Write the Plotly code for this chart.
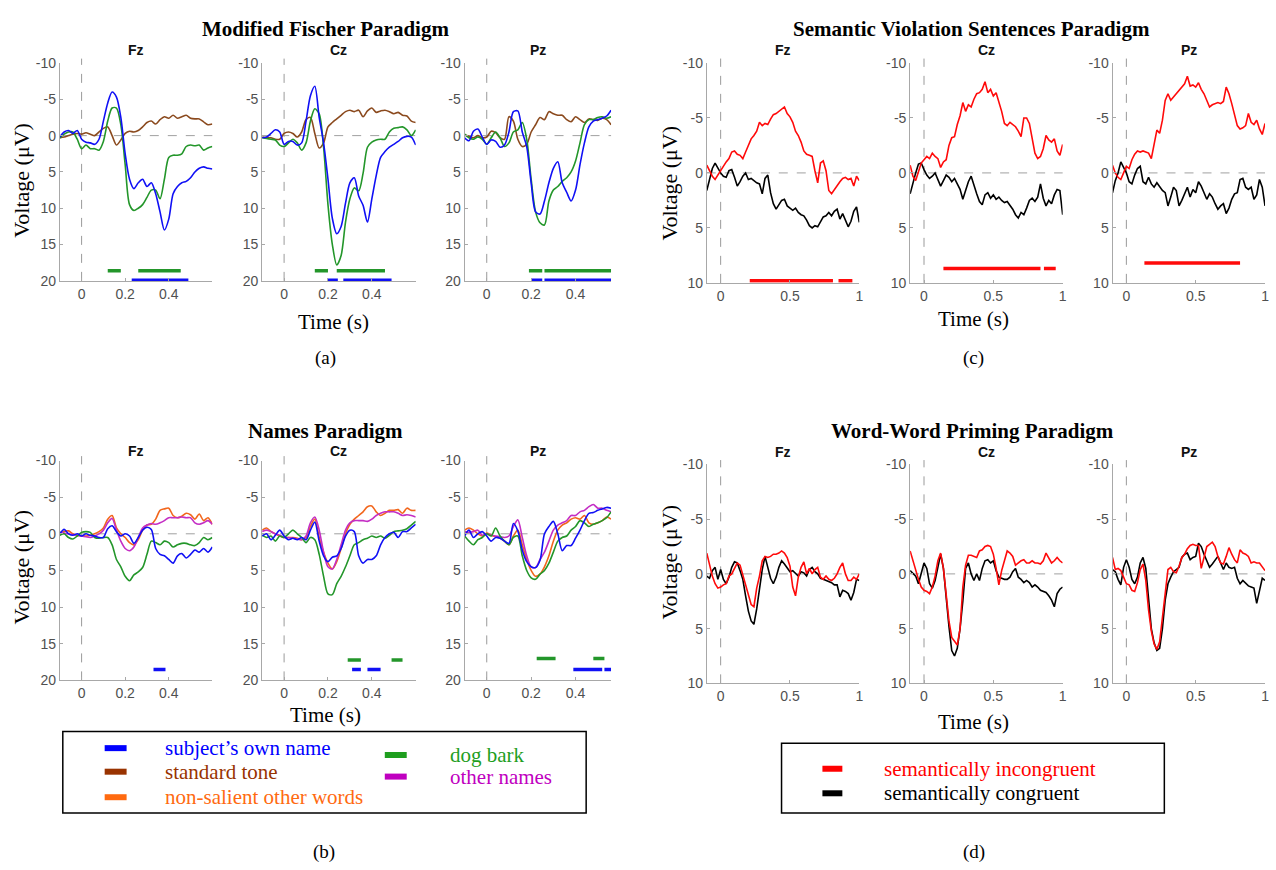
import plotly.graph_objects as go

W, H = 1276, 870

# ---------------- time axes (s) ----------------
T_A = [-0.10, -0.08, -0.06, -0.04, -0.02, 0.00, 0.02, 0.04, 0.06, 0.08, 0.10, 0.12,
       0.14, 0.16, 0.18, 0.20, 0.22, 0.24, 0.26, 0.28, 0.30, 0.32, 0.34, 0.36,
       0.38, 0.40, 0.42, 0.44, 0.46, 0.48, 0.50, 0.52, 0.54, 0.56, 0.58, 0.60]
T_P = [-0.10, -0.08, -0.06, -0.04, -0.02, 0.00, 0.02, 0.04, 0.06, 0.08, 0.10, 0.12,
       0.14, 0.16, 0.18, 0.20, 0.22, 0.24, 0.26, 0.28, 0.30, 0.32, 0.34, 0.36,
       0.38, 0.40, 0.42, 0.44, 0.46, 0.48, 0.50, 0.52, 0.54, 0.56]
T_C = [-0.10, -0.08, -0.06, -0.04, -0.02, 0.00, 0.02, 0.04, 0.06, 0.08,
       0.10, 0.12, 0.14, 0.16, 0.18, 0.20, 0.22, 0.24, 0.26, 0.28,
       0.30, 0.32, 0.34, 0.36, 0.38, 0.40, 0.42, 0.44, 0.46, 0.48,
       0.50, 0.52, 0.54, 0.56, 0.58, 0.60, 0.62, 0.64, 0.66, 0.68,
       0.70, 0.72, 0.74, 0.76, 0.78, 0.80, 0.82, 0.84, 0.86, 0.88,
       0.90, 0.92, 0.94, 0.96, 0.98, 1.00]

ELECTRODES = ["Fz", "Cz", "Pz"]

# ---------------- (a) Modified Fischer Paradigm (uV) ----------------
A_FZ_OWN = [0.2, -0.5, -0.7, -0.3, -0.7, 0.5, 0.9, 1.0, 1.2, 0.5, -2.0, -4.5,
            -6.0, -5.3, -2.5, 2.5, 6.0, 7.3, 6.5, 6.0, 7.0, 6.5, 8.0, 10.5,
            13.0, 11.5, 8.0, 7.0, 6.5, 6.3, 5.8, 5.0, 4.5, 4.3, 4.5, 4.6]
A_FZ_DOG = [0.3, -0.2, -0.5, -0.5, 0.5, 1.8, 1.3, 1.8, 1.8, 2.0, 0.8, -2.0,
            -3.8, -3.8, -1.5, 4.0, 9.5, 10.3, 10.0, 9.5, 8.5, 7.5, 7.5, 8.7,
            6.0, 3.0, 2.7, 2.7, 2.5, 1.5, 1.3, 1.4, 1.3, 2.0, 1.7, 1.5]
A_FZ_TONE = [0.3, 0.2, 0.0, -0.2, -0.3, -0.2, -0.4, -0.2, 0.0, -0.5, -1.0, -1.2,
             0.0, 1.3, 0.6, -0.3, -0.6, -0.5, -0.7, -1.2, -1.8, -2.0, -1.6, -2.2,
             -2.6, -2.4, -2.8, -2.4, -2.6, -2.8, -2.4, -2.3, -2.3, -1.9, -1.5, -1.6]

A_CZ_OWN = [0.3, 0.2, -0.3, -0.8, -0.5, 1.2, 0.8, 0.8, 1.3, 1.0, -2.0, -5.5,
            -6.8, -2.5, 1.0, 6.0, 11.4, 13.5, 12.5, 9.3, 6.5, 5.8, 8.3, 9.6,
            11.9, 8.7, 5.5, 3.0, 2.2, 1.6, 1.2, 0.8, 0.3, 0.1, 0.2, 1.3]
A_CZ_DOG = [0.3, 0.4, 0.5, 0.6, 1.3, 1.5, 1.0, 0.5, 1.0, 2.0, 1.0, -2.0,
            -3.7, -3.0, 1.6, 9.5, 15.0, 17.8, 16.5, 11.9, 8.7, 7.2, 7.6, 5.2,
            1.6, 0.9, 0.6, 0.5, 0.5, -0.5, -1.0, -1.1, -1.2, -0.8, 0.0, -0.8]
A_CZ_TONE = [0.2, 0.3, 0.3, 0.5, 0.5, -0.3, -0.5, -0.3, 0.2, -0.5, -2.2, -2.5,
             -0.3, 1.7, 1.0, -1.2, -1.8, -2.3, -2.8, -3.3, -3.5, -3.3, -3.5, -2.6,
             -3.4, -3.8, -3.2, -3.4, -3.5, -3.3, -3.0, -3.2, -2.8, -2.7, -2.0, -1.8]

A_PZ_OWN = [0.3, 0.7, -0.6, -0.9, 0.2, 1.2, 0.6, 0.8, 1.6, 1.3, -0.5, -3.3,
            -3.4, -0.5, 1.5, 6.5, 10.5, 10.8, 9.0, 6.5, 4.5, 3.6, 6.5, 7.8,
            9.0, 7.5, 4.0, 1.0, -1.2, -2.0, -2.2, -2.4, -2.7, -3.5]
A_PZ_DOG = [-0.2, 0.3, 0.5, 0.2, 0.5, 1.2, 0.3, -0.5, 0.3, 1.5, 1.0, -0.5,
            -0.8, -1.8, 0.5, 6.0, 10.5, 12.0, 12.3, 9.0, 7.5, 7.0, 6.3, 5.8,
            5.0, 3.5, 1.0, -1.5, -2.2, -2.2, -2.5, -2.6, -2.4, -2.6]
A_PZ_TONE = [-0.1, 0.1, 0.3, 0.0, 0.3, 0.2, -0.6, -0.4, 0.3, 0.5, -2.6, -2.0,
             0.5, 1.5, 1.2, -0.5, -1.5, -2.5, -2.2, -3.3, -3.0, -2.8, -2.8, -2.2,
             -1.9, -2.6, -2.2, -1.8, -2.3, -2.2, -2.1, -2.4, -2.2, -1.5]

# ---------------- (b) Names Paradigm (uV) ----------------
B_FZ_OWN = [0.0, -0.6, 0.0, 0.2, 0.0, 0.3, 0.0, 0.2, 0.3, 0.5, 0.5, -0.7,
            -1.1, -0.3, 0.3, 0.0, 0.3, 1.3, 0.5, -0.5, -0.9, -0.6, 2.0, 2.8,
            3.0, 3.5, 4.0, 3.0, 2.7, 3.3, 2.8, 2.2, 2.5, 2.0, 2.5, 1.8]
B_FZ_WORDS = [0.0, -0.3, -0.4, 0.0, 0.2, 0.3, 0.3, 0.2, 0.0, -0.3, -0.8, -2.0,
              -2.5, -0.8, 0.0, 0.5, 1.2, 1.5, 0.8, -0.5, -1.2, -1.3, -2.0, -3.2,
              -3.4, -3.5, -2.5, -2.2, -2.4, -2.8, -2.6, -2.0, -2.7, -1.8, -2.2, -1.3]
B_FZ_NAMES = [-0.2, -0.1, 0.0, 0.1, 0.2, 0.3, 0.4, 0.5, 0.3, 0.0, -0.5, -1.5,
              -2.1, -0.5, 1.0, 2.0, 2.3, 1.8, 0.5, -0.8, -1.2, -1.4, -1.3, -1.5,
              -1.8, -2.2, -2.2, -2.2, -2.3, -2.2, -2.2, -1.5, -1.3, -1.5, -1.8, -1.3]
B_FZ_DOG = [0.2, 0.0, 0.5, 0.7, 0.3, -0.2, -0.3, -0.2, 0.5, 0.6, 0.5, 0.5,
            1.5, 3.5, 4.5, 5.8, 6.4, 5.6, 5.2, 4.6, 2.8, 1.0, 1.2, 1.5,
            1.0, 1.2, 1.8, 1.5, 1.3, 1.3, 1.5, 1.6, 1.2, 0.5, 0.8, 0.5]

B_CZ_OWN = [0.3, 0.0, 0.8, 0.2, -0.5, 0.3, 0.8, 0.6, 0.8, 0.5, 0.8, -0.5,
            -1.6, 1.0, 3.0, 3.8, 3.2, 3.0, 2.0, 0.3, -0.5, -0.3, 3.0, 4.0,
            3.5, 3.5, 3.0, 1.5, 0.5, 0.0, -0.2, 0.5, -0.3, -0.3, -0.8, -1.3]
B_CZ_WORDS = [-0.5, -0.8, -0.3, 0.0, 0.3, 0.5, 0.5, 0.5, 0.6, 0.8, 0.5, -1.0,
              -2.0, 0.5, 2.5, 4.0, 4.8, 3.8, 2.0, 0.0, -1.3, -2.0, -2.5, -3.0,
              -3.7, -3.8, -3.0, -2.5, -2.8, -3.2, -3.2, -3.3, -2.8, -3.5, -3.2, -3.2]
B_CZ_NAMES = [-0.3, -0.5, -0.3, 0.0, 0.2, 0.5, 0.5, 0.6, 0.7, 0.8, 0.3, -1.5,
              -2.3, -0.5, 2.5, 4.5, 4.8, 3.5, 1.5, -0.5, -1.5, -1.8, -1.8, -1.8,
              -1.7, -2.0, -2.5, -2.8, -3.0, -3.0, -3.0, -2.8, -2.5, -2.6, -2.5, -2.3]
B_CZ_DOG = [0.2, 0.5, 0.3, 1.0, 0.3, 0.5, 0.0, -0.5, 0.0, 0.5, 1.2, 0.5,
            0.8, 2.8, 5.8, 8.2, 8.3, 6.8, 5.8, 4.5, 3.0, 1.5, 1.2, 0.8,
            0.6, 0.3, 0.5, 0.3, 0.6, 0.2, -0.3, -0.4, -0.5, -0.7, -1.2, -1.7]

B_PZ_OWN = [0.3, -0.5, 0.5, 0.0, -0.3, 0.3, 1.0, 0.5, 0.6, 1.0, 1.3, -1.4,
            -0.4, 2.2, 3.8, 4.5, 4.6, 3.6, 0.0, -1.0, -1.7, 0.0, 2.3, 1.6,
            1.6, 0.6, -0.5, -1.8, -2.8, -2.9, -3.2, -3.4, -3.6, -3.5]
B_PZ_WORDS = [-0.5, -0.8, -0.5, 0.0, 0.3, -0.1, 0.2, 0.4, 0.6, 1.0, 1.5, 0.3,
              -0.5, 1.5, 3.5, 5.0, 5.8, 5.5, 4.5, 3.0, 1.0, -0.5, -1.2, -1.5,
              -2.0, -2.2, -2.0, -2.5, -1.5, -1.3, -1.5, -1.8, -2.3, -2.0]
B_PZ_NAMES = [-0.3, -0.2, -0.3, -0.5, 0.2, 0.0, 0.2, 0.3, 0.4, 0.5, 0.3, -1.0,
              -1.9, 0.5, 3.0, 4.5, 4.6, 3.5, 2.5, 1.0, -0.5, -1.2, -1.5, -1.8,
              -2.5, -2.5, -3.0, -3.2, -3.7, -4.0, -3.5, -3.5, -3.2, -3.0]
B_PZ_DOG = [0.3, 1.0, 1.5, 0.8, 0.5, 0.0, 0.3, -0.8, 0.3, 1.0, 1.5, 0.5,
            0.3, 3.0, 5.0, 6.0, 6.2, 5.5, 5.0, 4.0, 2.5, 1.0, 0.5, 0.3,
            -0.5, -1.0, -1.8, -1.5, -1.0, -1.3, -1.5, -1.8, -2.2, -3.0]

# ---------------- (c) Semantic Violation Sentences Paradigm (uV) ----------------
C_FZ_INC = [-0.7, -0.2, 0.3, 0.6, 0.2, -0.3, -0.6, -1.0, -1.3, -1.9,
            -2.0, -1.7, -1.6, -1.3, -1.9, -2.6, -3.1, -3.4, -3.8, -4.6,
            -4.3, -4.5, -4.4, -4.9, -5.3, -5.4, -5.6, -5.8, -6.0, -5.4,
            -5.1, -4.6, -3.8, -3.4, -2.8, -2.0, -1.7, -1.6, -1.5, -0.2,
            0.9, -0.9, -1.1, -0.2, 1.6, 1.9, 1.5, 1.2, 0.8, 0.5,
            0.4, 0.6, 0.5, 1.2, 0.3, 0.7]
C_FZ_CON = [1.6, 0.6, -0.4, -0.9, -0.4, 0.0, 0.3, 0.4, -0.2, -0.3,
            0.4, 1.2, 0.8, 0.3, 0.0, 0.6, 0.5, 0.7, 0.9, 1.0,
            1.9, 0.5, 0.2, 1.8, 2.8, 3.3, 2.9, 2.5, 2.4, 3.0,
            3.2, 3.4, 3.2, 3.6, 3.8, 3.9, 4.3, 4.8, 5.0, 4.8,
            4.9, 4.5, 4.0, 3.9, 3.6, 3.9, 3.5, 3.3, 4.2, 3.7,
            4.3, 4.9, 4.4, 3.5, 3.1, 4.5]
C_CZ_INC = [-0.7, 0.3, 0.7, 0.0, -0.9, -1.2, -1.5, -1.3, -1.8, -1.5,
            -1.3, -0.5, -1.0, -1.2, -2.5, -3.2, -3.3, -4.4, -5.2, -6.4,
            -5.6, -6.2, -6.0, -6.7, -7.2, -7.3, -7.6, -8.3, -7.3, -7.6,
            -7.0, -7.3, -6.5, -5.6, -4.5, -4.3, -4.6, -4.4, -4.2, -3.8,
            -3.3, -5.0, -5.0, -4.5, -3.0, -1.8, -1.3, -1.5, -2.2, -3.4,
            -3.0, -2.8, -3.1, -2.0, -1.6, -2.6]
C_CZ_CON = [1.9, 0.9, 0.0, -0.8, -0.9, -0.3, 0.2, 0.5, 0.3, 0.0,
            0.6, 1.2, 0.7, 0.2, 0.4, 0.8, 0.5, 1.0, 1.5, 2.4,
            1.6, 0.8, 0.3, 1.2, 1.9, 2.6, 2.9, 2.0, 1.8, 2.3,
            2.0, 2.4, 2.2, 2.5, 2.7, 2.6, 2.9, 3.3, 3.8, 4.1,
            3.6, 3.8, 3.2, 2.5, 2.3, 2.6, 2.2, 1.0, 2.3, 3.0,
            2.5, 2.8, 2.0, 1.5, 1.6, 3.8]
C_PZ_INC = [-0.7, 0.0, 0.4, 0.6, 0.0, -0.6, -0.4, -1.2, -1.7, -2.0,
            -1.9, -2.0, -1.9, -1.8, -1.3, -2.5, -3.9, -3.6, -4.8, -6.6,
            -7.2, -6.6, -6.9, -7.2, -7.6, -7.9, -8.1, -8.8, -7.9, -8.0,
            -7.8, -8.2, -7.6, -7.2, -6.5, -6.0, -6.2, -6.3, -6.4, -6.3,
            -6.5, -7.8, -7.2, -6.3, -5.2, -4.3, -4.0, -4.1, -4.3, -5.4,
            -4.6, -4.4, -4.8, -4.0, -3.5, -4.5]
C_PZ_CON = [1.8, 0.7, 0.0, -1.0, -0.5, 0.0, 0.8, 1.0, 0.2, -0.4,
            -0.6, 0.8, 1.0, 0.4, 1.0, 1.3, 0.9, 1.3, 1.6, 1.8,
            3.0, 2.2, 1.3, 1.6, 3.0, 2.5, 1.8, 1.3, 2.2, 1.5,
            1.8, 0.8, 1.2, 1.8, 2.4, 1.9, 2.2, 2.8, 3.3, 3.0,
            2.8, 3.7, 3.2, 2.4, 1.9, 1.8, 0.6, 0.5, 1.3, 1.5,
            1.3, 2.4, 2.0, 0.6, 1.3, 3.0]

# ---------------- (d) Word-Word Priming Paradigm (uV) ----------------
D_FZ_INC = [-1.9, -0.8, 0.2, 0.9, 1.3, 1.2, 1.0, 0.9, 0.2, 0.0,
            -0.5, -1.0, -0.8, 0.1, 1.0, 2.0, 2.8, 3.0, 1.3, 0.2,
            -1.2, -1.6, -1.5, -1.6, -1.8, -1.8, -1.9, -2.1, -1.9, -1.5,
            -0.7, 1.2, 2.0, 0.3, -0.6, -1.1, 0.0, -0.5, 0.0, -0.4,
            -0.6, 0.3, 0.5, 0.2, 0.5, 0.6, 0.4, 0.0, -0.6, -1.0,
            0.0, 0.6, 0.6, 0.3, 0.5, 0.0]
D_FZ_CON = [0.2, 0.4, -0.3, -0.6, 0.5, -0.4, 0.5, 0.9, 0.3, -0.6,
            -1.1, -1.0, -0.3, 0.5, 2.0, 3.4, 4.3, 4.6, 3.2, 1.5,
            -0.4, -1.6, -0.6, 0.4, 0.9, 0.3, -0.6, -1.2, -0.9, -0.5,
            -0.2, -0.3, 0.0, 0.2, -0.2, -0.1, 0.2, -0.4, -0.6, -0.2,
            0.0, 0.4, 0.5, 0.6, 0.7, 0.8, 1.0, 1.0, 2.1, 1.5,
            1.6, 1.8, 2.4, 1.7, 0.5, 0.6]
D_CZ_INC = [-2.1, -1.2, -0.5, 0.5, 1.2, 1.5, 1.6, 1.8, 1.2, 0.2,
            -1.2, -1.9, -0.5, 2.0, 4.3, 5.8, 6.1, 6.5, 5.0, 1.2,
            -0.8, -1.7, -1.7, -1.6, -1.5, -2.1, -2.2, -2.5, -2.6, -2.5,
            -1.8, -0.5, 1.0, -0.3, -1.2, -2.1, -1.9, -1.6, -0.8, -1.0,
            -1.2, -1.3, -1.0, -1.0, -1.2, -1.0, -1.0, -0.9, -1.2, -1.9,
            -1.5, -1.0, -1.2, -1.5, -1.2, -1.0]
D_CZ_CON = [-0.3, 0.0, 0.2, 0.9, 0.0, -1.0, -0.5, 0.9, 1.3, 0.6,
            -0.6, -1.8, -0.5, 2.4, 4.8, 7.0, 7.5, 6.8, 5.0, 2.5,
            -0.5, -1.0, 0.0, 0.6, 0.0, 0.6, -0.5, -1.2, -1.3, -1.0,
            -1.2, -0.3, 0.3, 0.4, 0.5, 0.5, 0.3, -0.2, -0.5, 0.3,
            0.5, 0.8, 0.6, 0.8, 1.2, 1.0, 1.2, 1.5, 1.6, 1.7,
            2.0, 2.4, 3.0, 1.8, 1.4, 1.2]
D_PZ_INC = [-1.5, -0.4, -0.5, -0.3, 0.3, 0.9, 1.0, 1.5, 1.6, 0.8,
            -0.4, -0.9, 0.6, 3.3, 5.2, 6.4, 6.9, 6.2, 4.0, 1.5,
            -0.4, -0.6, -0.2, -0.1, -0.7, -1.5, -1.8, -2.3, -2.6, -2.7,
            -2.6, -2.6, -0.5, -1.5, -2.5, -2.7, -2.9, -2.5, -1.6, -1.0,
            -0.9, -1.6, -2.4, -1.8, -1.3, -1.0, -2.2, -1.9, -1.8, -1.6,
            -1.0, -1.1, -1.0, -1.0, -0.6, -0.3]
D_PZ_CON = [-0.4, -0.2, 0.5, 1.0, -0.6, -1.3, -0.6, 0.5, 0.9, 0.3,
            -1.0, -1.5, -0.5, 2.5, 5.0, 6.3, 7.0, 6.8, 5.0, 2.4,
            0.9, 0.3, -0.2, -0.4, -0.6, -1.5, -1.8, -1.9, -1.3, -1.5,
            -1.6, -2.8, -2.5, -1.8, -1.2, -0.6, -0.9, -1.2, -1.6, -1.0,
            -0.4, -1.0, -0.6, -0.5, -0.6, 0.4, 0.9, 0.6, 0.9, 1.1,
            1.2, 1.3, 2.7, 1.4, 0.4, 0.6]

# ---------------- significance bars: (condition, start s, end s, level uV) ----------------
SIG_A_FZ = [("dog", 0.12, 0.18, 18.6), ("dog", 0.26, 0.455, 18.6), ("own", 0.23, 0.49, 19.9)]
SIG_A_CZ = [("dog", 0.14, 0.20, 18.6), ("dog", 0.24, 0.46, 18.6),
            ("own", 0.20, 0.245, 19.9), ("own", 0.27, 0.49, 19.9)]
SIG_A_PZ = [("dog", 0.19, 0.25, 18.6), ("dog", 0.26, 0.56, 18.6),
            ("own", 0.20, 0.25, 19.9), ("own", 0.26, 0.56, 19.9)]
SIG_B_FZ = [("own", 0.33, 0.385, 18.5)]
SIG_B_CZ = [("dog", 0.29, 0.35, 17.2), ("dog", 0.49, 0.54, 17.2),
            ("own", 0.31, 0.35, 18.5), ("own", 0.38, 0.44, 18.5)]
SIG_B_PZ = [("dog", 0.225, 0.31, 17.0), ("dog", 0.48, 0.53, 17.0),
            ("own", 0.39, 0.52, 18.5), ("own", 0.53, 0.56, 18.5)]
SIG_C_FZ = [("inc", 0.21, 0.81, 9.8), ("inc", 0.85, 0.95, 9.8)]
SIG_C_CZ = [("inc", 0.14, 0.84, 8.7), ("inc", 0.865, 0.95, 8.7)]
SIG_C_PZ = [("inc", 0.13, 0.82, 8.2)]

# ---------------- legend labels ----------------
LEG_B_COL1 = [("own", "subject\u2019s own name"), ("tone", "standard tone"),
              ("words", "non-salient other words")]
LEG_B_COL2 = [("dog", "dog bark"), ("names", "other names")]
LEG_D = [("inc", "semantically incongruent"), ("con", "semantically congruent")]

COLORS = {"own": "#1010F5", "dog": "#23962A", "tone": "#8B4A1E", "words": "#F2661C",
          "names": "#C42EC4", "inc": "#FF0A0A", "con": "#000000"}
LEG_COLORS = {"own": "#0000FF", "dog": "#1E9E1E", "tone": "#993300", "words": "#FF6A10",
              "names": "#BF00BF", "inc": "#FF0000", "con": "#000000"}

# ---------------- layout geometry (pixels) ----------------
PANELS = [
    ((60, 213, 56, 278), T_A, [-0.1, 0.6], "long",
     [("tone", A_FZ_TONE), ("dog", A_FZ_DOG), ("own", A_FZ_OWN)], SIG_A_FZ),
    ((263, 417, 56, 278), T_A, [-0.1, 0.6], "long",
     [("tone", A_CZ_TONE), ("dog", A_CZ_DOG), ("own", A_CZ_OWN)], SIG_A_CZ),
    ((466, 613, 56, 278), T_P, [-0.1, 0.56], "long",
     [("tone", A_PZ_TONE), ("dog", A_PZ_DOG), ("own", A_PZ_OWN)], SIG_A_PZ),
    ((60, 213, 461, 685), T_A, [-0.1, 0.6], "long",
     [("words", B_FZ_WORDS), ("names", B_FZ_NAMES), ("dog", B_FZ_DOG), ("own", B_FZ_OWN)], SIG_B_FZ),
    ((263, 417, 461, 685), T_A, [-0.1, 0.6], "long",
     [("words", B_CZ_WORDS), ("names", B_CZ_NAMES), ("dog", B_CZ_DOG), ("own", B_CZ_OWN)], SIG_B_CZ),
    ((466, 613, 461, 685), T_P, [-0.1, 0.56], "long",
     [("words", B_PZ_WORDS), ("names", B_PZ_NAMES), ("dog", B_PZ_DOG), ("own", B_PZ_OWN)], SIG_B_PZ),
    ((709, 862, 56, 280), T_C, [-0.1, 1.0], "short",
     [("con", C_FZ_CON), ("inc", C_FZ_INC)], SIG_C_FZ),
    ((913, 1066, 56, 280), T_C, [-0.1, 1.0], "short",
     [("con", C_CZ_CON), ("inc", C_CZ_INC)], SIG_C_CZ),
    ((1116, 1269, 56, 280), T_C, [-0.1, 1.0], "short",
     [("con", C_PZ_CON), ("inc", C_PZ_INC)], SIG_C_PZ),
    ((709, 862, 465, 688), T_C, [-0.1, 1.0], "short",
     [("con", D_FZ_CON), ("inc", D_FZ_INC)], []),
    ((913, 1066, 465, 688), T_C, [-0.1, 1.0], "short",
     [("con", D_CZ_CON), ("inc", D_CZ_INC)], []),
    ((1116, 1269, 465, 688), T_C, [-0.1, 1.0], "short",
     [("con", D_PZ_CON), ("inc", D_PZ_INC)], []),
]

SUBTITLE_Y = [43, 43, 43, 451, 451, 451, 43, 43, 43, 452, 452, 452]

AX_GRAY = "#a8a8a8"
TICK_FONT = dict(family="Liberation Sans, Arial, sans-serif", size=14, color="#505050")
SERIF = "Liberation Serif, Times New Roman, serif"
SANS = "Liberation Sans, Arial, sans-serif"


def px(x):
    return x / W


def py(y):
    return 1 - y / H


fig = go.Figure()
layout = dict(width=W, height=H, margin=dict(l=0, r=0, t=0, b=0),
              paper_bgcolor="white", plot_bgcolor="white", showlegend=False)
shapes = []
annotations = []

for i, (box, times, xr, ykind, series, sig) in enumerate(PANELS):
    k = i + 1
    xa = "x" if k == 1 else f"x{k}"
    ya = "y" if k == 1 else f"y{k}"
    l, r, t, b = box
    if ykind == "long":
        yrange = [20, -10]
        yvals = [-10, -5, 0, 5, 10, 15, 20]
        xvals = [0, 0.2, 0.4]
        xtext = ["0", "0.2", "0.4"]
        shape = "spline"
    else:
        yrange = [10, -10]
        yvals = [-10, -5, 0, 5, 10]
        xvals = [0, 0.5, 1]
        xtext = ["0", "0.5", "1"]
        shape = "linear"
    ytext = [str(v) for v in yvals]
    common = dict(showline=True, linecolor=AX_GRAY, linewidth=1, ticks="inside",
                  ticklen=3, tickcolor=AX_GRAY, tickwidth=1, showgrid=False,
                  zeroline=False, tickfont=TICK_FONT, fixedrange=True)
    layout["xaxis" if k == 1 else f"xaxis{k}"] = dict(
        domain=[px(l), px(r)], range=xr, anchor=ya, tickvals=xvals, ticktext=xtext,
        **common)
    layout["yaxis" if k == 1 else f"yaxis{k}"] = dict(
        domain=[py(b), py(t)], range=yrange, anchor=xa, tickvals=yvals, ticktext=ytext,
        **common)

    shapes.append(dict(type="line", xref=xa, yref=f"{ya} domain", x0=0, x1=0,
                       y0=0, y1=1.02, line=dict(color="#9a9a9a", width=1, dash="dash"),
                       layer="below"))
    shapes.append(dict(type="line", xref=f"{xa} domain", yref=ya, x0=0, x1=1,
                       y0=0, y1=0, line=dict(color="#a0a0a0", width=1, dash="dash"),
                       layer="below"))

    for key, vals in series:
        fig.add_trace(go.Scatter(x=times, y=vals, mode="lines", xaxis=xa, yaxis=ya,
                                 line=dict(color=COLORS[key], width=1.6, shape=shape,
                                           smoothing=0.8),
                                 hoverinfo="skip"))
    for key, t0, t1, lvl in sig:
        fig.add_trace(go.Scatter(x=[t0, t1], y=[lvl, lvl], mode="lines", xaxis=xa, yaxis=ya,
                                 line=dict(color=COLORS[key], width=3.5),
                                 hoverinfo="skip"))

    annotations.append(dict(text=f"<b>{ELECTRODES[i % 3]}</b>", x=px((l + r) / 2),
                            y=py(SUBTITLE_Y[i]), xref="paper", yref="paper",
                            showarrow=False, xanchor="center", yanchor="middle",
                            font=dict(family=SANS, size=14, color="#111111")))


def text(s, x, y, size, family=SERIF, color="black", angle=0, anchor="center"):
    annotations.append(dict(text=s, x=px(x), y=py(y), xref="paper", yref="paper",
                            showarrow=False, xanchor=anchor, yanchor="middle",
                            textangle=angle, font=dict(family=family, size=size, color=color)))


text("<b>Modified Fischer Paradigm</b>", 327, 21, 21)
text("<b>Semantic Violation Sentences Paradigm</b>", 975, 21, 21)
text("<b>Names Paradigm</b>", 327, 431, 21)
text("<b>Word-Word Priming Paradigm</b>", 976, 431, 21)

for (x, y) in [(22, 175), (22, 569), (672, 178), (672, 564)]:
    text("Voltage (\u03bcV)", x, y, 22, angle=-90)
for (x, y) in [(335, 320), (327, 720), (977, 317), (977, 727)]:
    text("Time (s)", x, y, 21)

text("(a)", 327, 357, 19)
text("(c)", 977, 357, 19)
text("(b)", 325, 860, 19)
text("(d)", 977, 860, 19)

shapes.append(dict(type="rect", xref="paper", yref="paper", x0=px(63), x1=px(588),
                   y0=py(820), y1=py(737), line=dict(color="black", width=1.5)))
for (key, label), yy in zip(LEG_B_COL1, [754, 778, 804]):
    shapes.append(dict(type="line", xref="paper", yref="paper", x0=px(105), x1=px(127),
                       y0=py(yy), y1=py(yy), line=dict(color=LEG_COLORS[key], width=6)))
    text(label, 164, yy, 21, color=LEG_COLORS[key], anchor="left")
for (key, label), yy in zip(LEG_B_COL2, [761, 783]):
    shapes.append(dict(type="line", xref="paper", yref="paper", x0=px(386), x1=px(408),
                       y0=py(yy), y1=py(yy), line=dict(color=LEG_COLORS[key], width=6)))
    text(label, 449, yy, 21, color=LEG_COLORS[key], anchor="left")

shapes.append(dict(type="rect", xref="paper", yref="paper", x0=px(784), x1=px(1168),
                   y0=py(820), y1=py(749), line=dict(color="black", width=1.5)))
for (key, label), yy in zip(LEG_D, [775, 800]):
    shapes.append(dict(type="line", xref="paper", yref="paper", x0=px(825), x1=px(845),
                       y0=py(yy), y1=py(yy), line=dict(color=LEG_COLORS[key], width=6)))
    text(label, 885, yy, 21, color=LEG_COLORS[key], anchor="left")

layout["shapes"] = shapes
layout["annotations"] = annotations
fig.update_layout(**layout)
fig.write_html("out.html", config={"displayModeBar": False},
               post_script="document.body.style.margin='0px';")
